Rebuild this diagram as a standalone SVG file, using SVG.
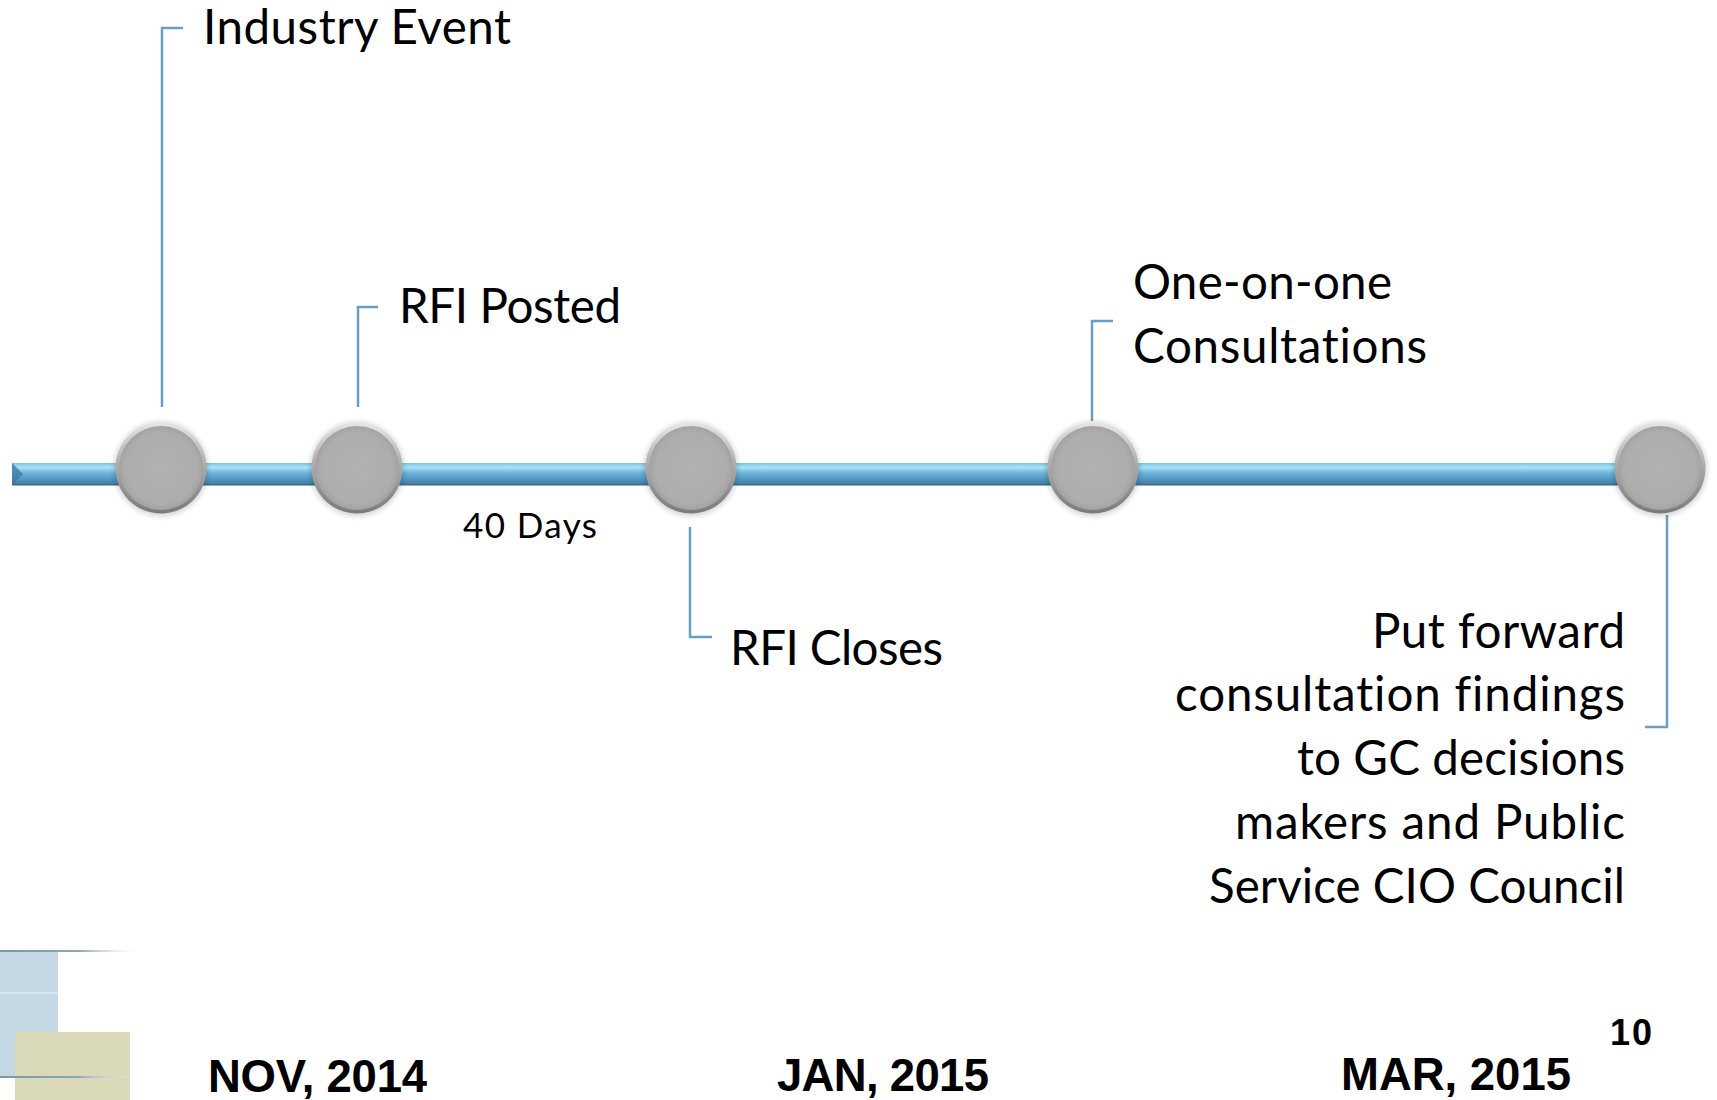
<svg xmlns="http://www.w3.org/2000/svg" width="1717" height="1100" viewBox="0 0 1717 1100">
  <style>
    .lbl { font-family: Lato, "Open Sans", sans-serif; font-size: 47.5px; fill: #000; font-variant-ligatures: none; }
    .sml { font-family: Lato, "Open Sans", sans-serif; font-size: 35px; fill: #000; font-variant-ligatures: none; }
    .date { font-family: "Liberation Sans", Arial, sans-serif; font-size: 45.5px; font-weight: bold; fill: #000; }
    .pg { font-family: "Liberation Sans", Arial, sans-serif; font-size: 36px; font-weight: bold; fill: #000; }
    .call { fill: none; stroke: #6a9ec4; stroke-width: 2.5; }
  </style>
  <defs>
    <linearGradient id="barG" x1="0" y1="0" x2="0" y2="1">
      <stop offset="0" stop-color="#7cc4e6"/>
      <stop offset="0.2" stop-color="#a9e3f7"/>
      <stop offset="0.45" stop-color="#6db6de"/>
      <stop offset="1" stop-color="#3e79a2"/>
    </linearGradient>
    <linearGradient id="rimG" x1="0" y1="0" x2="0" y2="1">
      <stop offset="0" stop-color="#e6e6e6"/>
      <stop offset="0.5" stop-color="#a8a8a8"/>
      <stop offset="1" stop-color="#7a7a7a"/>
    </linearGradient>
    <radialGradient id="bodyG" cx="0.5" cy="0.5" r="0.5">
      <stop offset="0" stop-color="#b2b2b2"/>
      <stop offset="0.85" stop-color="#adadad"/>
      <stop offset="1" stop-color="#a2a2a2"/>
    </radialGradient>
    <filter id="blur" x="-30%" y="-30%" width="160%" height="160%">
      <feGaussianBlur stdDeviation="2.5"/>
    </filter>
    <linearGradient id="lineFade" x1="0" y1="0" x2="1" y2="0">
      <stop offset="0" stop-color="#7d97a8"/>
      <stop offset="0.55" stop-color="#8ea6b5"/>
      <stop offset="1" stop-color="#ffffff" stop-opacity="0"/>
    </linearGradient>
    <g id="ball">
      <circle r="47.5" fill="#000" opacity="0.15" filter="url(#blur)" cy="1"/>
      <circle r="45.5" fill="url(#rimG)"/>
      <circle r="42" fill="url(#bodyG)"/>
    </g>
  </defs>

  <rect width="1717" height="1100" fill="#ffffff"/>

  <!-- bottom-left decoration -->
  <g id="decor">
    <rect x="0" y="951" width="58" height="126" fill="#c4d8e4"/>
    <rect x="0" y="992" width="58" height="2" fill="#d8e6ee"/>
    <rect x="15" y="1032" width="115" height="68" fill="#dad9ba"/>
    <rect x="0" y="950" width="145" height="2" fill="url(#lineFade)"/>
    <rect x="0" y="1076" width="142" height="2" fill="url(#lineFade)"/>
  </g>

  <!-- timeline bar -->
  <g id="bar">
    <rect x="12" y="463" width="1650" height="22" fill="url(#barG)"/>
    <rect x="12" y="484" width="1650" height="1.5" fill="#3a6a8e"/>
    <polygon points="12,463 23,474 12,485" fill="#3f7ca6" opacity="0.8"/>
  </g>

  <!-- connectors (callout lines) -->
  <g id="connectors">
    <polyline class="call" points="183,28 162,28 162,407"/>
    <polyline class="call" points="378,307 358,307 358,407"/>
    <polyline class="call" points="690,527 690,637 712,637"/>
    <polyline class="call" points="1113,321 1092,321 1092,421"/>
    <polyline class="call" points="1667,515 1667,727 1645,727"/>
  </g>

  <!-- nodes -->
  <g id="node-industry-event">
    <use href="#ball" x="161" y="468"/>
    <text class="lbl" x="203" y="44" textLength="308">Industry Event</text>
  </g>
  <g id="node-rfi-posted">
    <use href="#ball" x="357" y="468"/>
    <text class="lbl" x="399" y="323" textLength="222">RFI Posted</text>
  </g>
  <g id="node-rfi-closes">
    <use href="#ball" x="691" y="468"/>
    <text class="lbl" x="730" y="665" textLength="213">RFI Closes</text>
  </g>
  <g id="node-consultations">
    <use href="#ball" x="1093" y="468"/>
    <text class="lbl" x="1133" y="299" textLength="259">One-on-one</text>
    <text class="lbl" x="1133" y="363" textLength="294">Consultations</text>
  </g>
  <g id="node-put-forward">
    <use href="#ball" x="1660" y="468"/>
    <text class="lbl" text-anchor="end" x="1625" y="648" textLength="253">Put forward</text>
    <text class="lbl" text-anchor="end" x="1625" y="711" textLength="450">consultation findings</text>
    <text class="lbl" text-anchor="end" x="1625" y="775" textLength="328">to GC decisions</text>
    <text class="lbl" text-anchor="end" x="1625" y="839" textLength="390">makers and Public</text>
    <text class="lbl" text-anchor="end" x="1625" y="903" textLength="416">Service CIO Council</text>
  </g>

  <g id="label-40-days">
    <text class="sml" x="463" y="538" textLength="134">40 Days</text>
  </g>

  <g id="dates">
    <text class="date" x="208" y="1092" textLength="219">NOV, 2014</text>
    <text class="date" x="777" y="1091" textLength="212">JAN, 2015</text>
    <text class="date" x="1341" y="1090" textLength="230">MAR, 2015</text>
    <text class="pg" x="1610" y="1045" textLength="42">10</text>
  </g>
</svg>
